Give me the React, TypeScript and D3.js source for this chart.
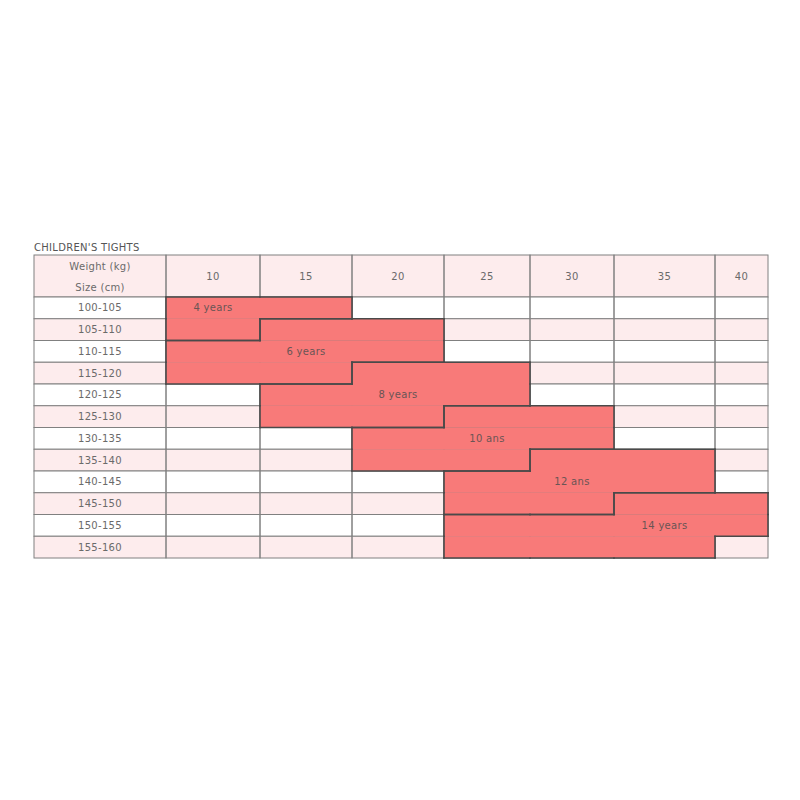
import React from "react";
import * as d3 from "d3";

// weight columns (kg) and size rows (cm)
const weights = [10, 15, 20, 25, 30, 35, 40];
const sizes = [100, 105, 110, 115, 120, 125, 130, 135, 140, 145, 150, 155];

// each age group: label cell [weight, size] and spans per row [size, fromWeight, toWeight]
const ageGroups = [
  { label: "4 years", at: [10, 100], rows: [[100, 10, 15], [105, 10, 10]] },
  { label: "6 years", at: [15, 110], rows: [[105, 15, 20], [110, 10, 20], [115, 10, 15]] },
  { label: "8 years", at: [20, 120], rows: [[115, 20, 25], [120, 15, 25], [125, 15, 20]] },
  { label: "10 ans", at: [25, 130], rows: [[125, 25, 30], [130, 20, 30], [135, 20, 25]] },
  { label: "12 ans", at: [30, 140], rows: [[135, 30, 35], [140, 25, 35], [145, 25, 30]] },
  { label: "14 years", at: [35, 150], rows: [[145, 35, 40], [150, 25, 40], [155, 25, 35]] },
];

const title = "CHILDREN'S TIGHTS";
const headerTop = "Weight (kg)";
const headerBottom = "Size (cm)";

const FONT = "'DejaVu Sans', sans-serif";
const FS = 10;
const LS = 0.3;
const TEXT = "#6a6a6a";
const GRID = "#808080";
const PINK = "#fdeced";
const FILL = "#f87a79";
const EDGE = "#4a4a4a";

const left = 34;
const headerY = 255;
const bodyY = 297;
const bottom = 558;

// column edges: piecewise mapping of weight boundaries to pixels
const x = d3
  .scaleLinear()
  .domain([7.5, 12.5, 17.5, 22.5, 27.5, 32.5, 37.5, 42.5])
  .range([166, 260, 352, 444, 530, 614, 715, 768]);
const y = d3.scaleLinear().domain([100, 160]).range([bodyY, bottom]);

const right = x(42.5);

const T = (props: any) => (
  <text fontFamily={FONT} fontSize={FS} letterSpacing={LS} fill={TEXT} textAnchor="middle" {...props} />
);

export default function App() {
  // cell -> group index
  const owner = new Map<string, number>();
  ageGroups.forEach((g, gi) =>
    g.rows.forEach(([s, w0, w1]) => {
      for (let w = w0; w <= w1; w += 5) owner.set(`${s}_${w}`, gi);
    })
  );
  const get = (s: number, w: number) => owner.get(`${s}_${w}`);

  const edges: { x1: number; y1: number; x2: number; y2: number }[] = [];
  owner.forEach((gi, key) => {
    const [s, w] = key.split("_").map(Number);
    const x0 = x(w - 2.5), x1 = x(w + 2.5), y0 = y(s), y1 = y(s + 5);
    if (get(s - 5, w) !== gi) edges.push({ x1: x0, y1: y0, x2: x1, y2: y0 });
    if (get(s + 5, w) !== gi) edges.push({ x1: x0, y1: y1, x2: x1, y2: y1 });
    if (get(s, w - 5) !== gi) edges.push({ x1: x0, y1: y0, x2: x0, y2: y1 });
    if (get(s, w + 5) !== gi) edges.push({ x1: x1, y1: y0, x2: x1, y2: y1 });
  });

  const cx0 = (left + x(7.5)) / 2;

  return (
    <svg width={800} height={800} style={{ position: "absolute", left: 0, top: 0, background: "#fff" }}>
      <T x={left} y={251} textAnchor="start" fill="#555">{title}</T>

      {/* header row */}
      <rect x={left} y={headerY} width={right - left} height={bodyY - headerY} fill={PINK} />
      <T x={cx0} y={269.5}>{headerTop}</T>
      <T x={cx0} y={290.5}>{headerBottom}</T>
      {weights.map((w) => (
        <g key={w}>
          <rect x={x(w - 2.5)} y={headerY} width={x(w + 2.5) - x(w - 2.5)} height={bodyY - headerY}
            fill="none" stroke={GRID} strokeWidth={1} />
          <T x={(x(w - 2.5) + x(w + 2.5)) / 2} y={279.5}>{w}</T>
        </g>
      ))}
      <rect x={left} y={headerY} width={x(7.5) - left} height={bodyY - headerY} fill="none" stroke={GRID} />

      {/* body rows */}
      {sizes.map((s, i) => (
        <g key={s}>
          <rect x={left} y={y(s)} width={right - left} height={y(s + 5) - y(s)} fill={i % 2 ? PINK : "#fff"} />
          <rect x={left} y={y(s)} width={x(7.5) - left} height={y(s + 5) - y(s)} fill="none" stroke={GRID} />
          <T x={cx0} y={(y(s) + y(s + 5)) / 2 + 3.6}>{`${s}-${s + 5}`}</T>
          {weights.map((w) => (
            <rect key={w} x={x(w - 2.5)} y={y(s)} width={x(w + 2.5) - x(w - 2.5)} height={y(s + 5) - y(s)}
              fill="none" stroke={GRID} strokeWidth={1} />
          ))}
        </g>
      ))}

      {/* age group fills */}
      {ageGroups.map((g) =>
        g.rows.map(([s, w0, w1]) => (
          <rect key={`${g.label}-${s}`} x={x(w0 - 2.5)} y={y(s)} width={x(w1 + 2.5) - x(w0 - 2.5)}
            height={y(s + 5) - y(s)} fill={FILL} />
        ))
      )}
      {edges.map((e, i) => (
        <line key={i} {...e} stroke={EDGE} strokeWidth={1.6} strokeLinecap="square" />
      ))}
      {ageGroups.map((g) => (
        <T key={g.label} x={(x(g.at[0] - 2.5) + x(g.at[0] + 2.5)) / 2}
          y={(y(g.at[1]) + y(g.at[1] + 5)) / 2 + 3.6} fill="#6a5555">
          {g.label}
        </T>
      ))}
    </svg>
  );
}
